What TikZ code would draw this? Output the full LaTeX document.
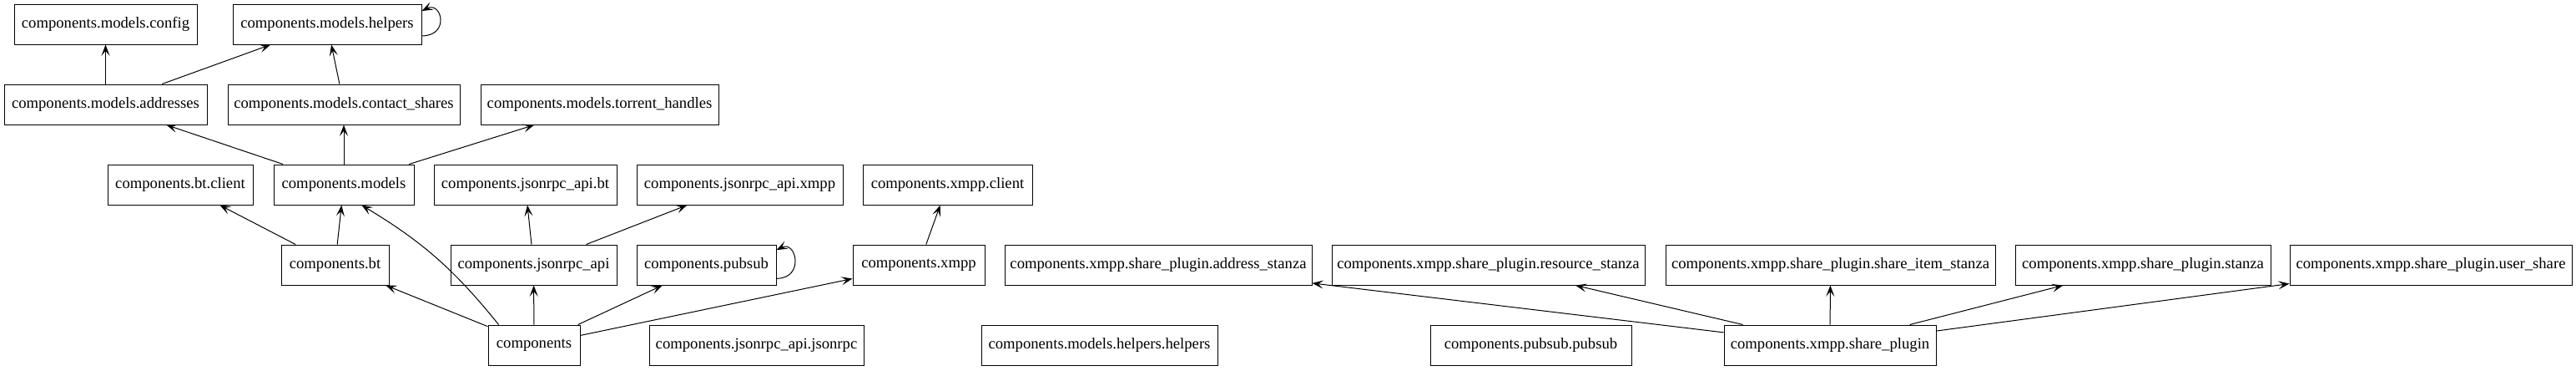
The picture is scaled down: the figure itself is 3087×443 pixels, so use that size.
\documentclass[tikz,border=0pt]{standalone}
\usepackage{fontspec}
\setmainfont{Liberation Serif}
\usetikzlibrary{arrows.meta}
\tikzset{
    module/.style={draw, line width=0.75pt, minimum height=36pt, minimum width=#1*0.75pt,
        inner sep=0pt, font=\fontsize{14}{16}\selectfont},
    dep/.style={-{Stealth[length=10pt,width=7.5pt,inset=4.5pt]}, line width=0.75pt},
}
\begin{document}
\begin{tikzpicture}[x=0.75pt,y=-0.75pt]
    \useasboundingbox (0,0) rectangle (3087,443);

    % row 1
    \node[module=219] (config) at (126.5,29) {components.models.config};
    \node[module=226] (helpers) at (392,29) {components.models.helpers};
    % row 2
    \node[module=243] (addresses) at (126.5,125) {components.models.addresses};
    \node[module=278] (shares) at (412,125) {components.models.contact\_shares};
    \node[module=285] (torrents) at (718.5,125) {components.models.torrent\_handles};
    % row 3
    \node[module=174] (btclient) at (216,221) {components.bt.client};
    \node[module=168] (models) at (412,221) {components.models};
    \node[module=219] (apibt) at (629.5,221) {components.jsonrpc\_api.bt};
    \node[module=247] (apixmpp) at (886.5,221) {components.jsonrpc\_api.xmpp};
    \node[module=203] (xmppclient) at (1135.5,221) {components.xmpp.client};
    % row 4
    \node[module=129] (bt) at (401.5,317) {components.bt};
    \node[module=199] (api) at (639.5,317) {components.jsonrpc\_api};
    \node[module=167] (pubsub) at (846.5,317) {components.pubsub};
    \node[module=158] (xmpp) at (1101,317) {components.xmpp};
    \node[module=368] (addrstanza) at (1388,317) {components.xmpp.share\_plugin.address\_stanza};
    \node[module=375] (resstanza) at (1783.5,317) {components.xmpp.share\_plugin.resource\_stanza};
    \node[module=395] (itemstanza) at (2193.5,317) {components.xmpp.share\_plugin.share\_item\_stanza};
    \node[module=306] (stanza) at (2568,317) {components.xmpp.share\_plugin.stanza};
    \node[module=338] (usershare) at (2913,317) {components.xmpp.share\_plugin.user\_share};
    % row 5
    \node[module=110] (comp) at (640,413) {components};
    \node[module=257] (jsonrpc) at (906.5,413) {components.jsonrpc\_api.jsonrpc};
    \node[module=283] (helperhelpers) at (1317.5,413) {components.models.helpers.helpers};
    \node[module=241] (pubsubpubsub) at (1834.5,413) {components.pubsub.pubsub};
    \node[module=254] (plugin) at (2193,413) {components.xmpp.share\_plugin};

    % imports
    \draw[dep] (addresses) -- (config);
    \draw[dep] (addresses) -- (helpers);
    \draw[dep] (shares) -- (helpers);
    \draw[dep] (helpers.-7) .. controls +(34,0) and +(24,-12) .. (helpers.8);
    \draw[dep] (models) -- (addresses);
    \draw[dep] (models) -- (shares);
    \draw[dep] (models) -- (torrents);
    \draw[dep] (bt) -- (btclient);
    \draw[dep] (bt) -- (models);
    \draw[dep] (api) -- (apibt);
    \draw[dep] (api) -- (apixmpp);
    \draw[dep] (pubsub.-11) .. controls +(34,0) and +(24,-12) .. (pubsub.12);
    \draw[dep] (xmpp) -- (xmppclient);
    \draw[dep] (comp) -- (bt);
    \draw[dep] (comp.150) to[bend right=10] (models.311);
    \draw[dep] (comp) -- (api);
    \draw[dep] (comp) -- (pubsub);
    \draw[dep] (comp) -- (xmpp);
    \draw[dep] (plugin) -- (addrstanza);
    \draw[dep] (plugin) -- (resstanza);
    \draw[dep] (plugin) -- (itemstanza);
    \draw[dep] (plugin) -- (stanza);
    \draw[dep] (plugin) -- (usershare);
\end{tikzpicture}
\end{document}
